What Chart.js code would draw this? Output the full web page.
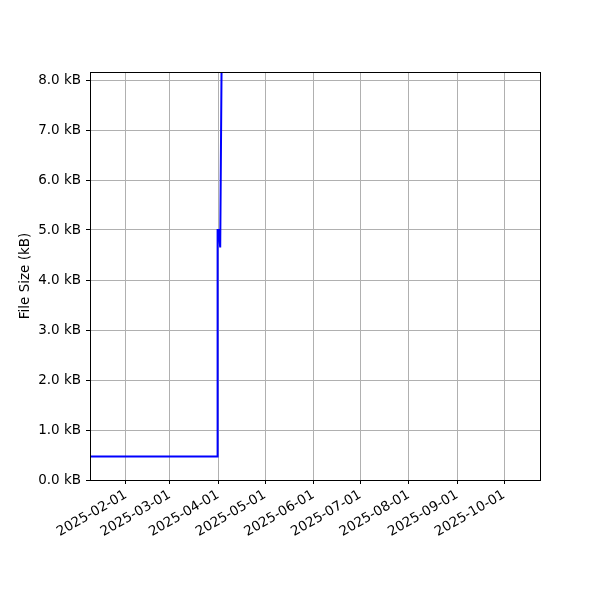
<!DOCTYPE html>
<html>
<head>
<meta charset="utf-8">
<script src="https://cdn.jsdelivr.net/npm/chart.js@4/dist/chart.umd.min.js"></script>
<style>
html,body{margin:0;padding:0;background:#fff;}
#wrap{width:600px;height:600px;}
</style>
</head>
<body>
<div id="wrap"><canvas id="c" width="600" height="600"></canvas></div>
<script>
// Data (file size in kB over time)
const dates = ['2025-01-01T00:00','2025-03-31T08:00','2025-03-31T16:00','2025-04-01T06:00','2025-04-02T08:00','2025-04-03T12:00','2025-04-10T00:00','2025-10-11T00:00'];
const sizesKB = [0.47, 0.47, 5.0, 5.0, 4.65, 9.5, 12.0, 14.0];
const xTickLabels = ['2025-02-01','2025-03-01','2025-04-01','2025-05-01','2025-06-01','2025-07-01','2025-08-01','2025-09-01','2025-10-01'];
const yTickValues = [0,1,2,3,4,5,6,7,8];
const xMinDate = '2025-01-09T00:00';
const xMaxDate = '2025-10-24T00:00';
const yMax = 8.16;

const toMs = s => Date.parse(s + (s.length === 10 ? 'T00:00:00Z' : ':00Z'));
const pts = dates.map((d, i) => ({x: toMs(d), y: sizesKB[i]}));
const pad = n => String(n).padStart(2, '0');
const fmt = v => { const d = new Date(v); return d.getUTCFullYear() + '-' + pad(d.getUTCMonth() + 1) + '-' + pad(d.getUTCDate()); };

const frame = {
  id: 'frame',
  afterDatasetsDraw(chart) {
    const a = chart.chartArea, ctx = chart.ctx;
    ctx.save();
    ctx.strokeStyle = '#000';
    ctx.lineWidth = 1;
    ctx.strokeRect(Math.round(a.left) + 0.5, Math.round(a.top) + 0.5, Math.round(a.right - a.left), Math.round(a.bottom - a.top));
    ctx.restore();
  }
};

Chart.defaults.font.family = 'DejaVu Sans';
Chart.defaults.font.size = 13.5;
Chart.defaults.color = '#000';

new Chart(document.getElementById('c'), {
  type: 'line',
  data: {
    datasets: [{
      data: pts,
      borderColor: '#0000ff',
      borderWidth: 2,
      pointRadius: 0,
      tension: 0,
      fill: false,
      clip: 0
    }]
  },
  options: {
    responsive: false,
    animation: false,
    layout: {padding: {top: 72, right: 60, left: 0, bottom: 0}},
    plugins: {legend: {display: false}, tooltip: {enabled: false}},
    scales: {
      x: {
        type: 'linear',
        min: toMs(xMinDate),
        max: toMs(xMaxDate),
        afterBuildTicks: s => { s.ticks = xTickLabels.map(t => ({value: toMs(t)})); },
        afterFit: s => { s.height = 120; },
        border: {display: false},
        grid: {color: '#b0b0b0', lineWidth: 1, tickColor: '#000', tickLength: 4, drawTicks: true},
        ticks: {
          autoSkip: false,
          maxRotation: 30,
          minRotation: 30,
          padding: 3,
          callback: v => fmt(v),
          font: {size: 13.5}
        }
      },
      y: {
        type: 'linear',
        min: 0,
        max: yMax,
        afterBuildTicks: s => { s.ticks = yTickValues.map(v => ({value: v})); },
        afterFit: s => { s.width = 90; },
        border: {display: false},
        grid: {color: '#b0b0b0', lineWidth: 1, tickColor: '#000', tickLength: 4, drawTicks: true},
        ticks: {
          padding: 5,
          callback: v => v.toFixed(1) + ' kB',
          font: {size: 13.5}
        },
        title: {display: true, text: 'File Size (kB)', font: {size: 13.5}, padding: {top: 17, bottom: 0}}
      }
    }
  },
  plugins: [frame]
});
</script>
</body>
</html>
